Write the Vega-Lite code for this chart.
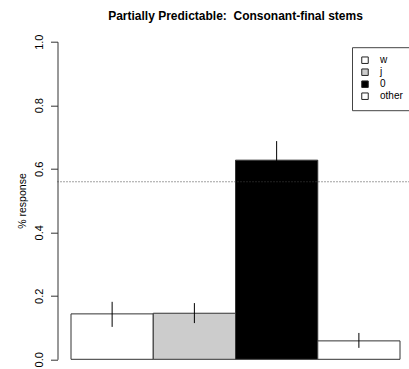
{
  "$schema": "https://vega.github.io/schema/vega-lite/v6.json",
  "autosize": "none",
  "width": 352,
  "height": 317.6,
  "padding": {"left": 57.5, "top": 41.7, "right": 0, "bottom": 9.7},
  "background": "white",
  "config": {
    "font": "Liberation Sans",
    "view": {"stroke": null}
  },
  "title": {
    "text": "Partially Predictable:\u00a0 Consonant-final stems",
    "font": "Liberation Sans",
    "fontSize": 12,
    "fontWeight": "bold",
    "color": "black",
    "anchor": "middle",
    "dx": 2,
    "offset": 11
  },
  "data": {
    "values": [
      {"cat": "w", "value": 0.143, "lo": 0.102, "hi": 0.181},
      {"cat": "j", "value": 0.145, "lo": 0.114, "hi": 0.177},
      {"cat": "0", "value": 0.627, "lo": 0.567, "hi": 0.687},
      {"cat": "other", "value": 0.058, "lo": 0.036, "hi": 0.083}
    ]
  },
  "encoding": {
    "x": {
      "field": "cat",
      "type": "nominal",
      "sort": ["w", "j", "0", "other"],
      "scale": {"range": [13.5, 342.5], "paddingInner": 0, "paddingOuter": 0},
      "axis": null
    }
  },
  "layer": [
    {
      "mark": {"type": "bar", "stroke": "#333", "strokeWidth": 1},
      "encoding": {
        "y": {
          "field": "value",
          "type": "quantitative",
          "scale": {"domain": [0, 1], "nice": false, "zero": true},
          "axis": {
            "values": [0, 0.2, 0.4, 0.6, 0.8, 1.0],
            "format": ".1f",
            "grid": false,
            "domainColor": "#333",
            "tickColor": "#333",
            "tickSize": 7,
            "labelAngle": 270,
            "labelAlign": "center",
            "labelBaseline": "bottom",
            "labelPadding": 6,
            "labelFontSize": 11,
            "labelColor": "black",
            "labelFont": "Liberation Sans",
            "title": "% response",
            "titleFontSize": 10.5,
            "titleFontWeight": "normal",
            "titleColor": "black",
            "titleFont": "Liberation Sans",
            "titlePadding": 6
          }
        },
        "fill": {
          "field": "cat",
          "type": "nominal",
          "sort": ["w", "j", "0", "other"],
          "scale": {"domain": ["w", "j", "0", "other"], "range": ["white", "#cccccc", "black", "white"]},
          "legend": {
            "title": null,
            "orient": "none",
            "legendX": 294.5,
            "legendY": 5.5,
            "symbolType": "square",
            "symbolSize": 42,
            "symbolStrokeColor": "#222",
            "symbolStrokeWidth": 1,
            "labelFontSize": 10,
            "labelColor": "black",
            "labelFont": "Liberation Sans",
            "rowPadding": 0,
            "padding": 8,
            "strokeColor": "#444",
            "fillColor": "white",
            "labelOffset": 10
          }
        }
      }
    },
    {
      "mark": {"type": "rule", "color": "black", "strokeWidth": 1},
      "encoding": {
        "y": {"field": "lo", "type": "quantitative"},
        "y2": {"field": "hi"}
      }
    },
    {
      "data": {"values": [{"chance": 0.559}]},
      "mark": {"type": "rule", "color": "#444", "strokeDash": [1, 2], "strokeWidth": 1},
      "encoding": {
        "x": null,
        "y": {"field": "chance", "type": "quantitative"}
      }
    }
  ]
}
